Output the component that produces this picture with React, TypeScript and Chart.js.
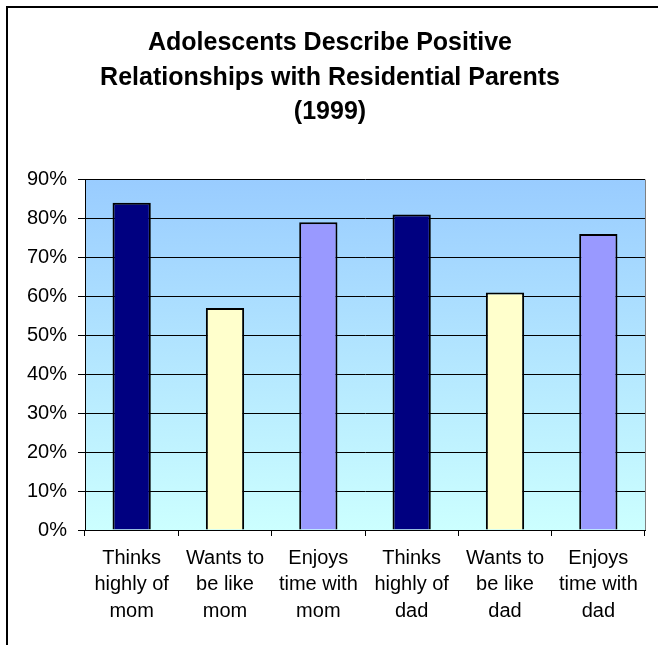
import React, { useEffect, useRef } from "react";
import { Chart, registerables } from "chart.js";

Chart.register(...registerables);

// Survey categories (split across lines as they appear under the axis)
const categories: string[][] = [
  ["Thinks", "highly of", "mom"],
  ["Wants to", "be like", "mom"],
  ["Enjoys", "time with", "mom"],
  ["Thinks", "highly of", "dad"],
  ["Wants to", "be like", "dad"],
  ["Enjoys", "time with", "dad"],
];

// Share of adolescents (percent)
const shares: number[] = [84, 57, 79, 81, 61, 76];

const barColors: string[] = ["#000080", "#FFFFCC", "#9999FF", "#000080", "#FFFFCC", "#9999FF"];

const titleLines: string[] = [
  "Adolescents Describe Positive",
  "Relationships with Residential Parents",
  "(1999)",
];

const yMax = 90;
const yStep = 10;

const FONT = "'Liberation Sans', Arial, Helvetica, sans-serif";

// Paints the white page, the outer frame and the gradient plot background
const backdropPlugin = {
  id: "backdrop",
  beforeDraw(chart: Chart) {
    const { ctx, width, height, chartArea } = chart;
    ctx.save();
    ctx.fillStyle = "#ffffff";
    ctx.fillRect(0, 0, width, height);

    ctx.strokeStyle = "#000000";
    ctx.lineWidth = 2;
    ctx.strokeRect(7, 7, width + 50, height + 50);

    const g = ctx.createLinearGradient(0, chartArea.top, 0, chartArea.bottom);
    g.addColorStop(0, "#99CCFF");
    g.addColorStop(1, "#CCFFFF");
    ctx.fillStyle = g;
    ctx.fillRect(chartArea.left, chartArea.top, chartArea.right - chartArea.left, chartArea.bottom - chartArea.top);

    ctx.strokeStyle = "#808080";
    ctx.lineWidth = 1;
    ctx.beginPath();
    ctx.moveTo(Math.round(chartArea.right) + 0.5, chartArea.top);
    ctx.lineTo(Math.round(chartArea.right) + 0.5, chartArea.bottom);
    ctx.stroke();
    ctx.restore();
  },
};

export default function App() {
  const canvasRef = useRef<HTMLCanvasElement | null>(null);

  useEffect(() => {
    if (!canvasRef.current) return;
    Chart.defaults.font.family = FONT;
    Chart.defaults.color = "#000000";

    const chart = new Chart(canvasRef.current, {
      type: "bar",
      data: {
        labels: categories,
        datasets: [
          {
            data: shares,
            backgroundColor: barColors,
            borderColor: "#000000",
            borderWidth: 2,
            categoryPercentage: 1,
            barPercentage: 0.41,
          },
        ],
      },
      options: {
        responsive: false,
        animation: false,
        layout: { padding: { left: 15, right: 13, top: 8, bottom: 0 } },
        plugins: {
          legend: { display: false },
          tooltip: { enabled: false },
          title: {
            display: true,
            text: titleLines,
            color: "#000000",
            font: { family: FONT, size: 25, weight: "bold", lineHeight: 1.38 },
            padding: { top: 18, bottom: 50 },
          },
        },
        scales: {
          x: {
            offset: true,
            grid: {
              display: true,
              drawOnChartArea: false,
              offset: true,
              drawTicks: true,
              tickLength: 6,
              tickColor: "#000000",
              color: "#000000",
            },
            border: { display: true, color: "#000000", width: 1 },
            ticks: {
              color: "#000000",
              font: { family: FONT, size: 20, lineHeight: 1.33 },
              padding: 9,
              maxRotation: 0,
              autoSkip: false,
            },
            afterFit(scale: any) {
              scale.height = 115;
            },
          },
          y: {
            min: 0,
            max: yMax,
            grid: {
              color: "#000000",
              lineWidth: 1,
              drawTicks: true,
              tickLength: 7,
              tickColor: "#000000",
            },
            border: { display: true, color: "#000000", width: 1 },
            ticks: {
              stepSize: yStep,
              color: "#000000",
              font: { family: FONT, size: 20 },
              padding: 11,
              callback: (v: any) => `${v}%`,
            },
            afterFit(scale: any) {
              scale.width = 70;
            },
          },
        },
      },
      plugins: [backdropPlugin],
    });

    return () => chart.destroy();
  }, []);

  return (
    <div style={{ position: "fixed", left: 0, top: 0, width: 658, height: 645 }}>
      <canvas ref={canvasRef} width={658} height={645} style={{ display: "block" }} />
    </div>
  );
}
